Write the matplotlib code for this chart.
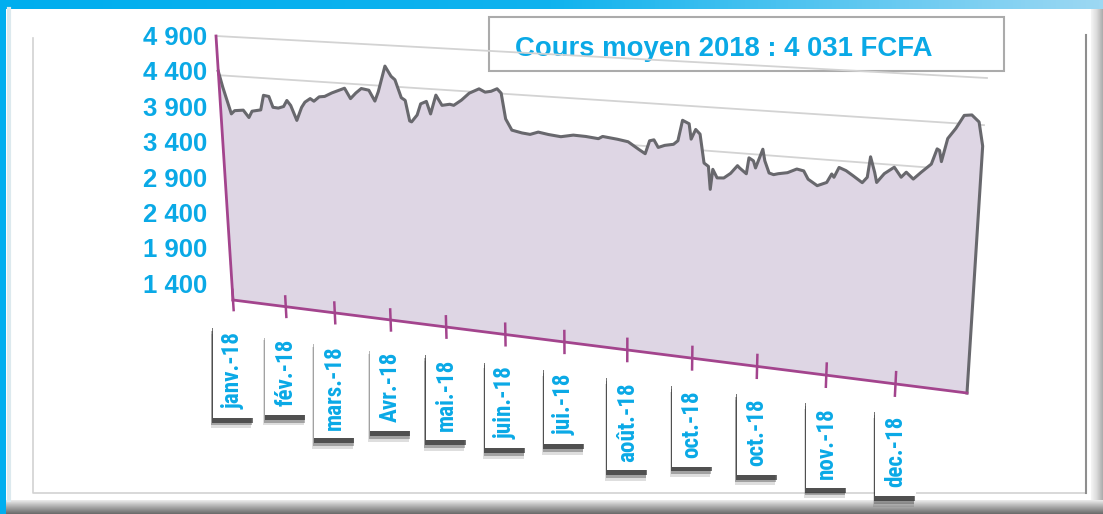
import numpy as np
import matplotlib
matplotlib.use("Agg")
import matplotlib.pyplot as plt
import matplotlib.transforms as mtransforms
import matplotlib.patheffects as pe
from matplotlib import font_manager
from matplotlib.font_manager import FontProperties
from matplotlib.colors import LinearSegmentedColormap
from matplotlib.patches import Rectangle

# daily closing price (day of year 2018, FCFA)
days = [0, 2, 6, 8, 13, 16, 18, 23, 25, 28, 30, 33, 36, 38, 40, 43, 46, 48, 51, 53,
        56, 59, 63, 67, 70, 73, 76, 79, 83, 86, 88, 92, 95, 97, 100, 102, 104, 105, 108, 110,
        113, 115, 118, 121, 125, 127, 131, 135, 140, 143, 146, 149, 151, 153, 156, 161, 165, 169, 174, 180,
        186, 192, 198, 200, 207, 212, 217, 220, 222, 224, 226, 229, 233, 235, 237, 240, 241, 243, 245, 247,
        249, 250, 251, 253, 256, 259, 262, 263, 266, 267, 269, 270, 273, 274, 276, 278, 280, 284, 288, 291,
        293, 297, 301, 303, 304, 306, 309, 312, 316, 318, 319, 321, 322, 325, 329, 332, 334, 337, 340, 344,
        346, 347, 348, 350, 353, 356, 359, 362, 364]
price = [4450, 4250, 3910, 3955, 3970, 3880, 3965, 3990, 4180, 4170, 4035, 4030, 4055, 4135, 4075, 3890, 4060, 4130, 4180, 4150,
         4210, 4220, 4270, 4310, 4340, 4215, 4290, 4350, 4335, 4205, 4325, 4645, 4525, 4485, 4270, 4240, 3990, 3980, 4070, 4210,
         4245, 4095, 4330, 4210, 4230, 4220, 4290, 4380, 4440, 4405, 4420, 4455, 4405, 4100, 3970, 3945, 3935, 3970, 3950, 3935,
         3965, 3960, 3945, 3975, 3955, 3935, 3855, 3810, 3965, 3980, 3895, 3925, 3945, 3990, 4230, 4195, 4020, 4135, 4085, 3755,
         3720, 3455, 3690, 3595, 3600, 3660, 3755, 3730, 3670, 3855, 3825, 3745, 3965, 3835, 3700, 3685, 3700, 3720, 3770, 3755,
         3665, 3600, 3645, 3745, 3710, 3825, 3795, 3745, 3675, 3740, 3970, 3800, 3690, 3795, 3875, 3770, 3830, 3760, 3840, 3940,
         4110, 4095, 3975, 4230, 4345, 4490, 4500, 4430, 4175]

month_days = [0, 31, 59, 90, 120, 151, 181, 212, 243, 273, 304, 334]
month_labels = ["janv.-18", "fév.-18", "mars.-18", "Avr.-18", "mai.-18", "juin.-18",
                "jui.-18", "août.-18", "oct.-18", "oct.-18", "nov.-18", "dec.-18"]
y_ticks = [4900, 4400, 3900, 3400, 2900, 2400, 1900, 1400]
title = "Cours moyen 2018 : 4 031 FCFA"

W, H = 1103, 514
BLUE = "#0AA9E6"
PINK = "#A3448D"
FILL = "#DED6E4"
LINE = "#68686D"


def condensed_bold():
    # look for an installed narrow / condensed bold face for the month labels
    prefs = ["liberation sans narrow", "roboto condensed", "noto sans", "open sans",
             "dejavu sans"]
    found = []
    for f in font_manager.fontManager.ttflist:
        nm = f.name.lower()
        st = str(f.stretch).lower()
        w = f.weight if isinstance(f.weight, (int, float)) else font_manager.weight_dict.get(f.weight, 400)
        narrowish = "narrow" in nm or "condensed" in nm or "condensed" in st
        if narrowish and w >= 600:
            rank = next((i for i, p in enumerate(prefs) if nm.startswith(p)), len(prefs))
            extra = 0 if st in ("condensed", "semi-condensed") or "narrow" in nm else 1
            found.append((rank, extra, f.fname))
    if found:
        found.sort()
        return FontProperties(fname=found[0][2])
    return FontProperties(family="Liberation Sans", weight="bold")


def homography(src, dst):
    a, b = [], []
    for (x, y), (X, Y) in zip(src, dst):
        a.append([x, y, 1, 0, 0, 0, -X * x, -X * y]); b.append(X)
        a.append([0, 0, 0, x, y, 1, -Y * x, -Y * y]); b.append(Y)
    h = np.linalg.solve(np.array(a, float), np.array(b, float))
    return np.append(h, 1).reshape(3, 3)


class Perspective(mtransforms.Transform):
    """unit square (axes fraction) -> display pixels, tilted plane"""
    input_dims = output_dims = 2
    is_separable = False
    has_inverse = False

    def __init__(self, m):
        super().__init__()
        self.m = m

    def transform_non_affine(self, pts):
        pts = np.asarray(pts, float).reshape(-1, 2)
        q = np.hstack([pts, np.ones((len(pts), 1))]) @ self.m.T
        return q[:, :2] / q[:, 2:3]


# corners of the tilted plot plane in picture pixels (x right, y down)
corners_px = [(233, 300), (967, 393), (987, 78), (216, 36)]
persp = Perspective(homography([(0, 0), (1, 0), (1, 1), (0, 1)],
                               [(x, H - y) for x, y in corners_px]))

fig = plt.figure(figsize=(W / 100, H / 100), dpi=100)
fig.patch.set_facecolor("white")

# background frame drawn in pixel coordinates
bg = fig.add_axes([0, 0, 1, 1])
bg.set_autoscale_on(False)
bg.set_xlim(0, W); bg.set_ylim(H, 0); bg.axis("off")
bg.imshow(np.linspace(0, 1, 256)[None, :], extent=(0, W, 9, 0), aspect="auto",
          cmap=LinearSegmentedColormap.from_list("top", ["#00AEEF", "#10B3EE", "#9DD8F3"]))
bg.add_patch(Rectangle((0, 0), 6, H, color="#00AEEF", lw=0))
bg.imshow(np.linspace(0, 1, 64)[:, None], extent=(6, W, H, 500), aspect="auto",
          cmap=LinearSegmentedColormap.from_list("bot", ["#EDEDED", "#A8A8A8", "#6A6A6A"]))
bg.imshow(np.linspace(0, 1, 64)[None, :], extent=(1091, W, 500, 9), aspect="auto",
          cmap=LinearSegmentedColormap.from_list("rt", ["#F6F6F6", "#DADADA", "#ABABAB"]))
bg.plot([9, 9], [9, 500], color="#DCE9EE", lw=3)
bg.plot([33, 33, 1086], [38, 493, 493], color="#D2D2D2", lw=1.2)
bg.plot([1086, 1086], [35, 493], color="#8E8E8E", lw=1.5)

for i, v in enumerate(y_ticks):
    bg.text(207, 38 + 35.4 * i, f"{v:,}".replace(",", " "), ha="right", va="center",
            fontsize=18.5, fontweight="bold", color=BLUE, family="Liberation Sans")

# chart axes: data space mapped onto the tilted plane
ax = fig.add_axes([0, 0, 1, 1])
ax.axis("off")
ax.patch.set_visible(False)
trans = ax.transScale + ax.transLimits + persp

for v in range(1900, 4901, 500):
    ax.plot([0, 364], [v, v], transform=trans, color="#D3D3D3", lw=1.3, zorder=1, clip_on=False)

ax.fill_between(days, 1400, price, transform=trans, color=FILL, lw=0, zorder=2, clip_on=False)
ax.plot(days + [364], price + [1400], transform=trans, color=LINE, lw=2.2,
        solid_joinstyle="round", zorder=3, clip_on=False)

ax.plot([0, 0], [1400, 4900], transform=trans, color=PINK, lw=2.0, zorder=4, clip_on=False)
ax.plot([0, 364], [1400, 1400], transform=trans, color=PINK, lw=2.0, zorder=4, clip_on=False)
for d in month_days:
    ax.plot([d, d], [1260, 1540], transform=trans, color=PINK, lw=1.8, zorder=4, clip_on=False)

ax.set_xlim(0, 364)
ax.set_ylim(1400, 4900)

# month labels: condensed bold, sized so "nov.-18" is ~72 px long
fp = condensed_bold()
renderer = fig.canvas.get_renderer()
probe = fig.text(0, 0, "nov.-18", fontproperties=fp, fontsize=16)
probe_w = probe.get_window_extent(renderer).width
probe.remove()
fp.set_size(16 * 72 / probe_w)

lab_trans = mtransforms.offset_copy(trans, fig, y=-32, units="dots")
for d, lab in zip(month_days, month_labels):
    t = ax.text(d, 1400, lab, transform=lab_trans, rotation=90, ha="center", va="top",
                fontproperties=fp, color=BLUE, zorder=6, clip_on=False,
                bbox=dict(boxstyle="square,pad=0.38", fc="white", ec="none"))
    t.get_bbox_patch().set_path_effects([
        pe.SimplePatchShadow(offset=(-1.5, -7.5), shadow_rgbFace="0.3", alpha=0.18),
        pe.SimplePatchShadow(offset=(-1.0, -5.5), shadow_rgbFace="0.2", alpha=0.35),
        pe.SimplePatchShadow(offset=(-0.5, -3.5), shadow_rgbFace="0.1", alpha=0.6),
        pe.Normal()])

# title box
bg.add_patch(Rectangle((489, 17), 515, 54, fc="white", ec="#ABABAB", lw=1.5, zorder=10))
bg.text(515, 49, title, ha="left", va="center", fontsize=19.8, fontweight="bold",
        color=BLUE, family="Liberation Sans", zorder=11)

fig.savefig("out.png", dpi=100)
